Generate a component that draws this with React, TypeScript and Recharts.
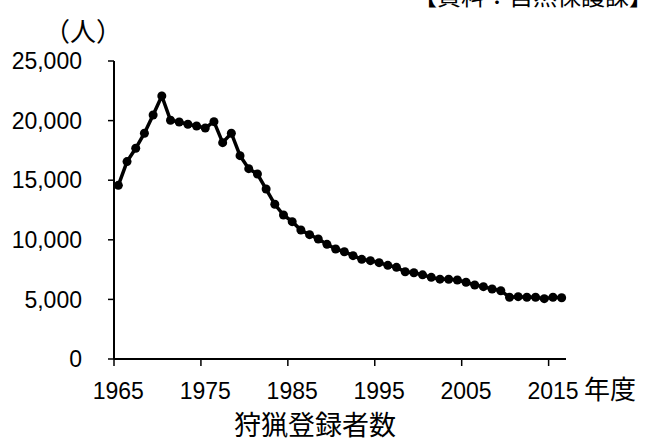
import { LineChart, Line, XAxis, YAxis } from 'recharts';

// 狩猟登録者数（人）、1965〜2016年度
const years = [
  1965, 1966, 1967, 1968, 1969, 1970, 1971, 1972, 1973, 1974,
  1975, 1976, 1977, 1978, 1979, 1980, 1981, 1982, 1983, 1984,
  1985, 1986, 1987, 1988, 1989, 1990, 1991, 1992, 1993, 1994,
  1995, 1996, 1997, 1998, 1999, 2000, 2001, 2002, 2003, 2004,
  2005, 2006, 2007, 2008, 2009, 2010, 2011, 2012, 2013, 2014,
  2015, 2016,
];

const hunters = [
  14570, 16560, 17680, 18940, 20470, 22070, 20030, 19880, 19690, 19550,
  19380, 19910, 18150, 18940, 17060, 15970, 15520, 14260, 12980, 12080,
  11520, 10820, 10430, 10070, 9620, 9230, 9000, 8670, 8360, 8250,
  8080, 7860, 7690, 7320, 7240, 7060, 6850, 6700, 6690, 6630,
  6440, 6210, 6070, 5870, 5730, 5180, 5230, 5180, 5180, 5060,
  5180, 5140,
];

const yTicks = [0, 5000, 10000, 15000, 20000, 25000];
const xTickYears = [1965, 1970, 1975, 1980, 1985, 1990, 1995, 2000, 2005, 2010, 2015];
const labelYears = [1965, 1975, 1985, 1995, 2005, 2015];

const W = 648;
const H = 442;
const LEFT = 114;
const RIGHT = 82;
const TOP = 61;
const XAXIS_H = 83;

const NUM_FONT = '"Liberation Sans", Arial, sans-serif';
const JP_FONT = '"Noto Sans CJK JP", "Noto Sans", sans-serif';

const data = years.map((y, i) => ({ year: y, value: hunters[i] }));

const plotWidth = W - LEFT - RIGHT;
const halfBand = plotWidth / years.length / 2;

function YearTick(props: any) {
  const { x, y, payload } = props;
  const year = payload.value + 0.5;
  if (!labelYears.includes(year)) return null;
  return (
    <text
      x={x + halfBand}
      y={y}
      dy="0.72em"
      textAnchor="middle"
      fontFamily={NUM_FONT}
      fontSize={23}
      fill="#000"
    >
      {year}
    </text>
  );
}

export default function App() {
  return (
    <div style={{ position: 'absolute', left: 0, top: 0, width: W, height: H, background: '#fff' }}>
      <LineChart
        width={W}
        height={H}
        data={data}
        margin={{ top: TOP, right: RIGHT, bottom: 0, left: 0 }}
      >
        <XAxis
          dataKey="year"
          type="number"
          domain={[years[0] - 0.5, years[years.length - 1] + 0.5]}
          ticks={xTickYears.map((y) => y - 0.5)}
          height={XAXIS_H}
          tick={<YearTick />}
          tickSize={7}
          tickMargin={16}
          axisLine={{ stroke: '#000', strokeWidth: 2 }}
          tickLine={{ stroke: '#000', strokeWidth: 1.5 }}
        />
        <YAxis
          domain={[0, 25000]}
          ticks={yTicks}
          width={LEFT}
          tickSize={6}
          tickMargin={26}
          tickFormatter={(v: number) => v.toLocaleString('en-US')}
          tick={{ fill: '#000', fontSize: 23, fontFamily: NUM_FONT }}
          axisLine={{ stroke: '#000', strokeWidth: 2 }}
          tickLine={{ stroke: '#000', strokeWidth: 1.5 }}
        />
        <Line
          type="linear"
          dataKey="value"
          stroke="#000"
          strokeWidth={3.5}
          dot={{ r: 4.5, fill: '#000', stroke: '#000', strokeWidth: 0 }}
          isAnimationActive={false}
        />
        {/* source note, partly cut off at the top edge as in the original */}
        <text x={413} y={5} fontFamily={JP_FONT} fontSize={24} fill="#000">
          【資料：自然保護課】
        </text>
        <text x={44} y={41} fontFamily={JP_FONT} fontSize={26} fill="#000">
          （人）
        </text>
        <text x={584} y={399} fontFamily={JP_FONT} fontSize={26} fill="#000">
          年度
        </text>
        <text x={315} y={435} textAnchor="middle" fontFamily={JP_FONT} fontSize={27} fill="#000">
          狩猟登録者数
        </text>
      </LineChart>
    </div>
  );
}
